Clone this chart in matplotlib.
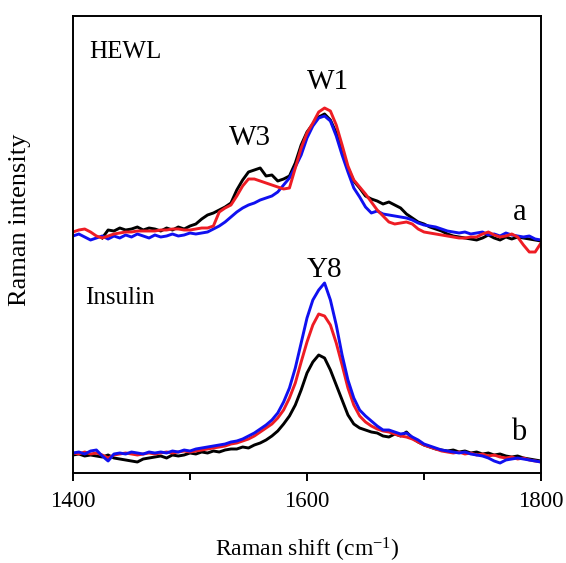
import numpy as np
import matplotlib
matplotlib.use("Agg")
import matplotlib.pyplot as plt
from matplotlib.ticker import MultipleLocator

plt.rcParams['font.family'] = ['Liberation Serif', 'DejaVu Serif']
plt.rcParams['mathtext.fontset'] = 'custom'
plt.rcParams['mathtext.rm'] = 'Liberation Serif'
plt.rcParams['mathtext.it'] = 'Liberation Serif:italic'

# Raman shift grid (cm-1), 5 cm-1 steps
wavenumber = np.arange(1400, 1805, 5)

# HEWL spectra (a), arbitrary units
hewl_black = [np.nan, np.nan, np.nan, np.nan, np.nan,
              235, 243, 242, 245, 243, 244, 246, 243, 245, 244, 242, 245, 243, 246, 244,
              247, 249, 254, 258, 260, 263, 266, 270, 283, 293, 301, 303, 305, 297, 298,
              292, 294, 297, 310, 328, 341, 349, 356, 359, 353, 340, 321, 305, 292, 285,
              277, 274, 272, 269, 271, 268, 265, 259, 255, 251, 249, 246, 244, 242, 239,
              237, 236, 235, 234, 233, 235, 238, 235, 233, 236, 234, 236, 235, 234, 233,
              232]
hewl_red = [241, 243, 244, 241, 237, 235, 237, 239, 240, 241, 241, 242, 242, 242, 242,
            243, 243, 244, 244, 243, 243, 244, 245, 245, 247, 261, 265, 268, 277, 287,
            294, 294, 292, 290, 288, 286, 284, 285, 305, 325, 340, 350, 361, 365, 362,
            348, 328, 307, 293, 286, 279, 271, 263, 257, 251, 249, 250, 251, 249, 244,
            241, 240, 239, 238, 237, 236, 235, 235, 236, 236, 239, 241, 238, 236, 237,
            239, 236, 228, 221, 221, 230]
hewl_blue = [237, 239, 236, 233, 235, 237, 234, 237, 235, 238, 236, 239, 237, 235, 238,
             236, 237, 239, 237, 238, 240, 239, 240, 241, 244, 247, 251, 256, 261, 265,
             268, 270, 273, 275, 277, 281, 288, 295, 306, 318, 335, 347, 355, 357, 352,
             337, 318, 301, 285, 276, 266, 260, 262, 259, 258, 257, 256, 255, 253, 250,
             248, 247, 246, 244, 242, 241, 240, 241, 239, 240, 241, 238, 239, 237, 240,
             238, 237, 236, 237, 234, 233]

# Insulin spectra (b), arbitrary units
ins_black = [18, 19, 17, 18, 17, 16, 18, 15, 14, 13, 12, 11, 14, 15, 16,
             17, 15, 18, 17, 18, 20, 19, 21, 20, 22, 21, 23, 24, 24, 26,
             25, 28, 30, 33, 37, 42, 49, 57, 68, 83, 100, 111, 118, 115, 103,
             88, 73, 58, 49, 45, 43, 41, 40, 37, 36, 39, 37, 41, 35, 31,
             28, 26, 24, 23, 22, 23, 21, 22, 20, 21, 19, 20, 18, 19, 17,
             16, 17, 15, 14, 13, 12]
ins_red = [20, 19, 21, 19, 20, 18, 15, 18, 19, 20, 19, 18, 19, 20, 19,
           20, 21, 20, 21, 22, 21, 22, 23, 24, 25, 26, 27, 29, 30, 32,
           34, 37, 41, 45, 49, 55, 63, 75, 90, 111, 131, 148, 159, 157, 148,
           130, 108, 85, 68, 57, 51, 47, 44, 42, 41, 39, 37, 36, 34, 31,
           28, 26, 24, 22, 21, 20, 21, 19, 20, 18, 19, 17, 18, 16, 15,
           16, 14, 15, 13, 12, 11]
ins_blue = [20, 21, 19, 22, 23, 17, 12, 19, 20, 19, 21, 20, 19, 21, 20,
            21, 20, 22, 21, 23, 22, 24, 25, 26, 27, 28, 29, 31, 32, 34,
            37, 40, 44, 48, 53, 60, 71, 85, 105, 130, 155, 173, 183, 190, 173,
            148, 118, 93, 75, 63, 57, 52, 47, 43, 43, 41, 39, 40, 36, 33,
            29, 27, 25, 23, 22, 21, 20, 21, 19, 18, 17, 15, 12, 10, 13,
            14, 15, 14, 13, 12, 11]

fig = plt.figure(figsize=(5.66, 5.63), dpi=100)
ax = fig.add_axes([73 / 566, 1 - 473 / 563, 468 / 566, 457 / 563])

lw = 2.1
ax.plot(wavenumber, hewl_black, color='black', lw=lw)
ax.plot(wavenumber, hewl_blue, color='#1010f0', lw=lw)
ax.plot(wavenumber, hewl_red, color='#ee1c24', lw=lw)
ax.plot(wavenumber, ins_black, color='black', lw=lw)
ax.plot(wavenumber, ins_red, color='#ee1c24', lw=lw)
ax.plot(wavenumber, ins_blue, color='#1010f0', lw=lw)

ax.set_xlim(1400, 1800)
ax.set_ylim(0, 457)
ax.set_yticks([])
ax.xaxis.set_major_locator(MultipleLocator(200))
ax.xaxis.set_minor_locator(MultipleLocator(100))
ax.tick_params(axis='x', which='major', direction='out', length=6, width=1.4,
               labelsize=16.5, pad=7)
ax.tick_params(axis='x', which='minor', direction='out', length=5, width=1.4)
for sp in ax.spines.values():
    sp.set_linewidth(1.4)

ax.set_xlabel('Raman shift (cm$^{-1}$)', fontsize=17, labelpad=17)
fig.text(20 / 566, 1 - 220 / 563, 'Raman intensity', fontsize=19,
         rotation=90, ha='center', va='center')

ax.text(1414, 421, 'HEWL', fontsize=18, va='center', ha='left')
ax.text(1410, 175, 'Insulin', fontsize=18, va='center', ha='left')
ax.text(1551, 335, 'W3', fontsize=21, va='center', ha='center')
ax.text(1618, 391, 'W1', fontsize=21, va='center', ha='center')
ax.text(1615, 203, 'Y8', fontsize=21, va='center', ha='center')
ax.text(1782, 260, 'a', fontsize=22, va='center', ha='center')
ax.text(1781, 41, 'b', fontsize=22, va='center', ha='center')

fig.savefig('out.png', dpi=100)
